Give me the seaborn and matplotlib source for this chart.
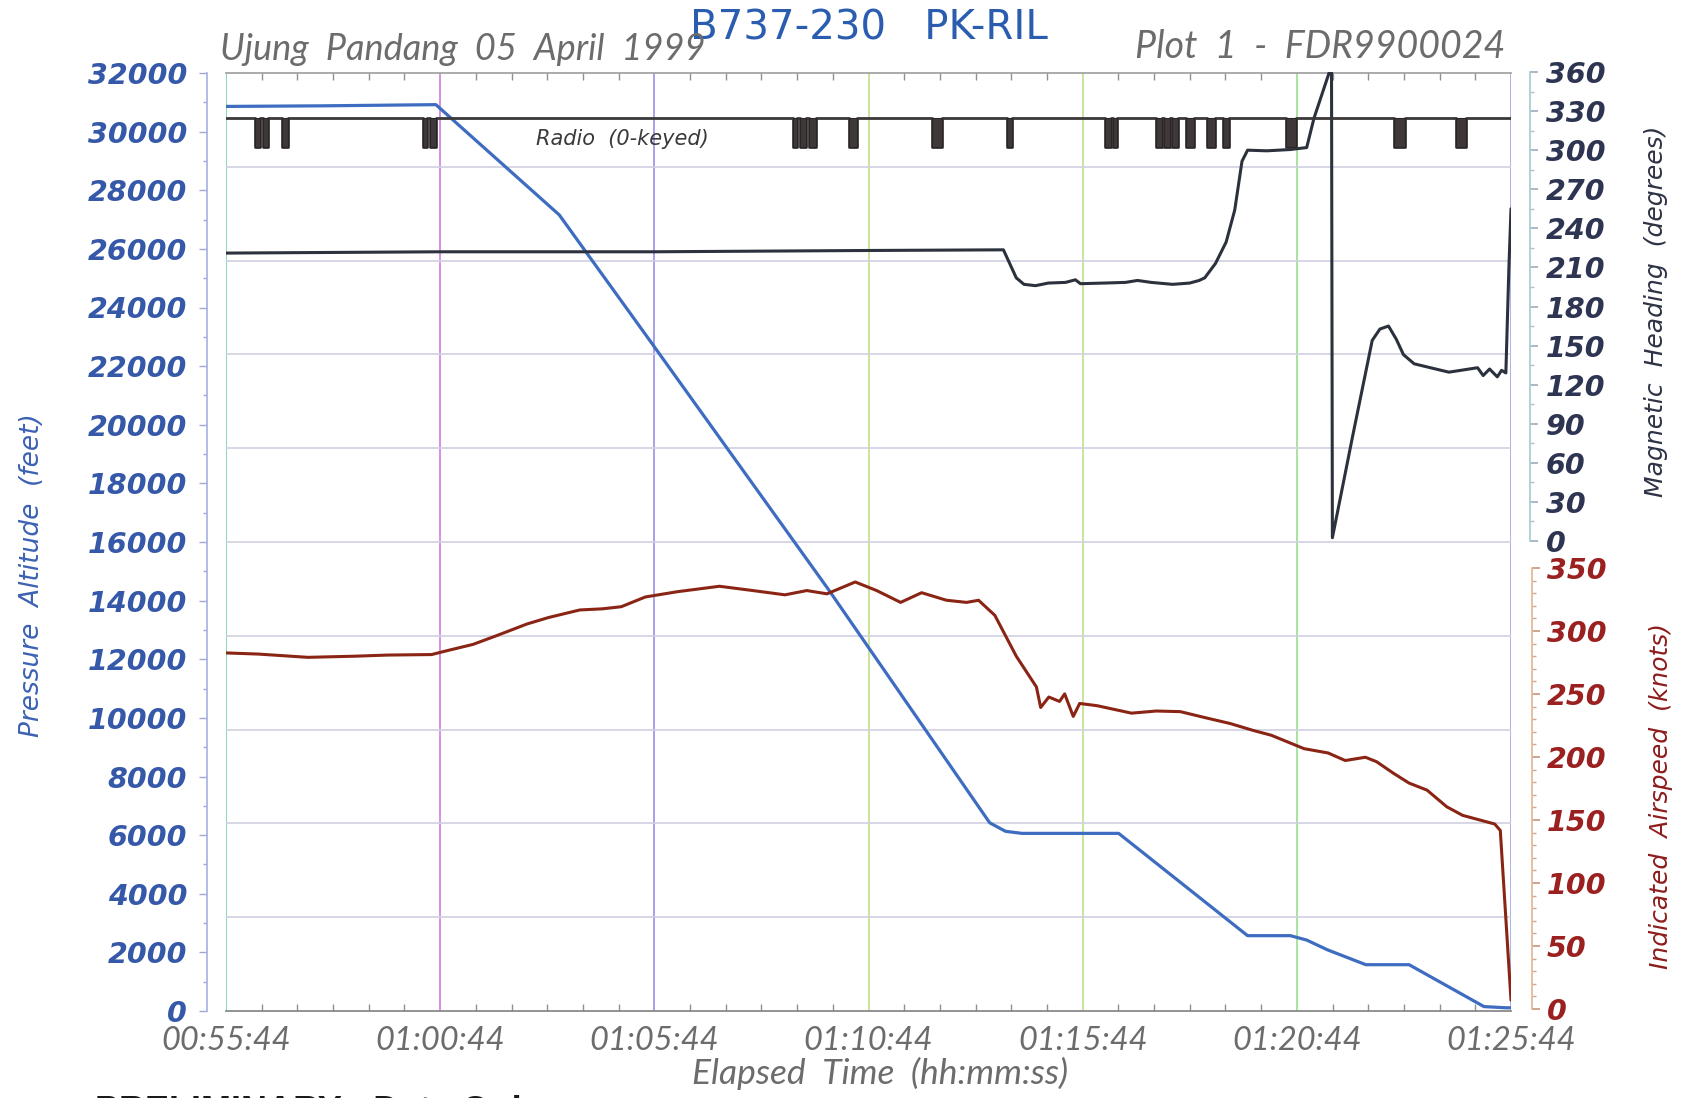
import matplotlib
matplotlib.use("Agg")
import matplotlib.pyplot as plt
import seaborn as sns
from matplotlib.ticker import MultipleLocator

sns.set_theme(style="white")
plt.rcParams['font.family'] = ['DejaVu Sans']

# ---- flight data, time in minutes elapsed since 00:55:44 ----
alt_t = [0.00, 2.26, 4.90, 7.78, 9.99, 14.06, 17.83, 18.20, 18.58, 20.84,
         23.85, 24.85, 25.23, 25.71, 26.61, 27.62, 29.37, 29.88, 30.00]
alt_ft = [30860, 30880, 30920, 27160, 22680, 14390, 6420, 6130, 6060, 6060,
          2570, 2570, 2420, 2090, 1580, 1580, 150, 110, 110]

hdg_t = [0.00, 5.00, 10.00, 15.00, 18.15, 18.45, 18.63, 18.90, 19.20, 19.60,
         19.83, 19.95, 20.50, 21.00, 21.28, 21.60, 22.10, 22.50, 22.72, 22.85,
         23.10, 23.35, 23.55, 23.72, 23.85, 24.30, 24.85, 25.23, 25.40, 25.76,
         25.81, 25.83, 26.30, 26.76, 26.94, 27.14, 27.32, 27.49, 27.74, 28.55,
         29.22, 29.35, 29.50, 29.68, 29.78, 29.88, 29.95, 30.00]
hdg_deg = [221, 222, 222, 223, 223.5, 202, 197, 196, 198, 198.5,
           200.5, 197.5, 198, 198.5, 200, 198.5, 197, 198, 200, 202,
           213, 229.5, 254, 291.5, 300, 299.5, 300.5, 302, 324.5, 360,
           360, 2.5, 80, 154, 162.7, 165, 155, 143, 136, 129.6,
           133, 127, 132, 126, 131, 129, 209, 255]

ias_t = [0.00, 0.75, 1.91, 3.01, 3.77, 4.80, 5.15, 5.77, 6.34, 7.03,
         7.53, 8.26, 8.79, 9.23, 9.79, 10.54, 11.52, 12.30, 13.05, 13.56,
         14.03, 14.69, 15.19, 15.75, 16.24, 16.82, 17.29, 17.57, 17.95, 18.45,
         18.92, 19.02, 19.21, 19.46, 19.58, 19.78, 19.93, 20.34, 21.14, 21.72,
         22.28, 22.85, 23.44, 23.98, 24.40, 25.17, 25.73, 26.13, 26.60, 26.86,
         27.26, 27.62, 28.04, 28.50, 28.87, 29.25, 29.62, 29.75, 30.00]
ias_kt = [282.6, 281.7, 279.1, 280.0, 280.9, 281.3, 284.3, 289.4, 296.6, 305.6,
          310.7, 316.7, 317.6, 319.3, 327.0, 331.2, 335.5, 332.1, 328.7, 332.1,
          329.5, 338.9, 332.1, 322.7, 330.4, 324.4, 322.7, 324.4, 312.4, 280.0,
          255.6, 239.3, 247.6, 244.1, 250.1, 232.2, 242.5, 240.7, 234.8, 236.5,
          236.0, 231.3, 226.6, 221.1, 217.3, 206.6, 203.2, 197.2, 199.8, 196.3,
          187.0, 179.3, 173.7, 160.5, 153.7, 150.2, 146.8, 141.7, 7.0]

# radio transmitter keyed intervals (minutes)
key_start = [0.678, 0.854, 1.305, 4.594, 4.770, 13.230, 13.406, 13.607, 14.536,
             16.490, 18.226, 20.511, 20.711, 21.716, 21.891, 22.092, 22.419,
             22.911, 23.285, 24.753, 27.264, 28.720]
key_end = [0.791, 0.979, 1.456, 4.695, 4.895, 13.331, 13.531, 13.783, 14.737,
           16.716, 18.352, 20.661, 20.812, 21.841, 22.042, 22.230, 22.594,
           23.096, 23.423, 24.979, 27.515, 28.946]

x_ticks = [0, 5, 10, 15, 20, 25, 30]
x_tick_labels = ["00:55:44", "01:00:44", "01:05:44", "01:10:44",
                 "01:15:44", "01:20:44", "01:25:44"]
alt_ticks = list(range(0, 32001, 2000))
hdg_ticks = list(range(0, 361, 30))
ias_ticks = list(range(0, 351, 50))

# ---- layout ----
W, H = 1686, 1098
fig = plt.figure(figsize=(W / 100, H / 100), dpi=100)
fig.patch.set_facecolor('white')


def rect(l, t, r, b):
    return [l / W, 1 - b / H, (r - l) / W, (b - t) / H]


L, R, T, B = 226, 1511, 73, 1011
ax = fig.add_axes(rect(L, T, R, B))
ax_h = fig.add_axes(rect(L, 72, R, 541))
ax_s = fig.add_axes(rect(L, 568, R, 1009))
ax_r = fig.add_axes(rect(L, 113, R, 152))

for a in (ax_h, ax_s, ax_r):
    a.patch.set_visible(False)
    for sp in a.spines.values():
        sp.set_visible(False)
    a.set_xlim(0, 30)
    a.set_xticks([])

tick_font = dict(family='DejaVu Sans', style='italic', weight='bold', size=20.5)
thin_font = dict(family=['Lato', 'DejaVu Sans'], style='italic', weight='normal')
label_font = dict(family=['Liberation Sans Narrow', 'DejaVu Sans'], style='italic')
thin_gray = '#6c6c6c'

# ---- grid ----
ax.set_xlim(0, 30)
ax.set_ylim(0, 32000)
grid_cols = ['#86d9b9', '#d58fe3', '#a9a0ea', '#cbe39a', '#c6e59a', '#a8e3a0', '#aab3ee']
for xv, c in zip(x_ticks, grid_cols):
    ax.axvline(xv, color=c, lw=1.4, zorder=0)
for k in range(1, 10):
    ax.axhline(32000 * k / 10, color='#d0d0e2', lw=1.2, zorder=0)

# ---- altitude (left axis) ----
sns.lineplot(x=alt_t, y=alt_ft, ax=ax, color='#3d6cc0', linewidth=2.3,
             estimator=None, sort=False, zorder=4)
ax.spines['right'].set_visible(False)
ax.spines['left'].set_position(('outward', 14))
ax.spines['left'].set_color('#a9b4e6')
ax.spines['left'].set_bounds(0, 32000)
ax.spines['bottom'].set_color('#858585')
ax.spines['top'].set_color('#a0a0a0')
ax.set_yticks(alt_ticks)
ax.set_yticklabels([str(v) for v in alt_ticks], color='#3559a8', **tick_font)
ax.yaxis.set_minor_locator(MultipleLocator(1000))
ax.tick_params(axis='y', which='major', direction='out', length=6, width=1,
               color='#a0a8d0', pad=8, left=True)
ax.tick_params(axis='y', which='minor', direction='out', length=3, width=1,
               color='#a0a8d0', left=True)
ax.set_xticks(x_ticks)
ax.set_xticklabels(x_tick_labels, color=thin_gray, size=23.5, **thin_font)
ax.xaxis.set_minor_locator(MultipleLocator(5 / 6))
ax.tick_params(axis='x', which='both', direction='in', top=True, bottom=True,
               color='#909090', width=1)
ax.tick_params(axis='x', which='major', length=0, pad=11)
ax.tick_params(axis='x', which='minor', length=5)
ax.set_xlabel('')
ax.set_ylabel('Pressure  Altitude  (feet)', color='#3c62b4', size=19, **label_font)
ax.yaxis.set_label_coords(-0.151, 0.465)
ax.yaxis.label.set_va('center')

# ---- magnetic heading (upper right axis) ----
ax_h.set_ylim(0, 360)
sns.lineplot(x=hdg_t, y=hdg_deg, ax=ax_h, color='#2b313d', linewidth=2.2,
             estimator=None, sort=False, zorder=4)
ax_h.spines['right'].set_visible(True)
ax_h.spines['right'].set_position(('outward', 14))
ax_h.spines['right'].set_color('#a8cdd6')
ax_h.yaxis.tick_right()
ax_h.set_yticks(hdg_ticks)
ax_h.set_yticklabels([str(v) for v in hdg_ticks], color='#2e3552', **tick_font)
ax_h.yaxis.set_minor_locator(MultipleLocator(15))
ax_h.tick_params(axis='y', which='major', direction='out', length=6, color='#a0b0c0',
                 right=True, left=False, pad=5)
ax_h.tick_params(axis='y', which='minor', direction='out', length=3, color='#b0c0c8',
                 right=True, left=False)
ax_h.yaxis.set_label_position('right')
ax_h.set_ylabel('Magnetic  Heading  (degrees)', color='#2d3344', size=18, rotation=90,
                **label_font)
ax_h.yaxis.set_label_coords(1.113, 0.49)
ax_h.yaxis.label.set_va('center')
ax_h.set_xlabel('')

# ---- indicated airspeed (lower right axis) ----
ax_s.set_ylim(0, 350)
sns.lineplot(x=ias_t, y=ias_kt, ax=ax_s, color='#8a2414', linewidth=2.2,
             estimator=None, sort=False, zorder=4)
ax_s.spines['right'].set_visible(True)
ax_s.spines['right'].set_position(('outward', 15))
ax_s.spines['right'].set_color('#e2b894')
ax_s.yaxis.tick_right()
ax_s.set_yticks(ias_ticks)
ax_s.set_yticklabels([str(v) for v in ias_ticks], color='#9b2020', **tick_font)
ax_s.yaxis.set_minor_locator(MultipleLocator(10))
ax_s.tick_params(axis='y', which='major', direction='out', length=6, color='#c89a80',
                 right=True, left=False, pad=5)
ax_s.tick_params(axis='y', which='minor', direction='out', length=3, color='#d0a890',
                 right=True, left=False)
ax_s.yaxis.set_label_position('right')
ax_s.set_ylabel('Indicated  Airspeed  (knots)', color='#8e1c1c', size=18, rotation=90,
                **label_font)
ax_s.yaxis.set_label_coords(1.117, 0.484)
ax_s.yaxis.label.set_va('center')
ax_s.set_xlabel('')

# ---- radio keying trace ----
ax_r.set_ylim(-0.162, 1.183)
ax_r.set_yticks([])
rt, rv = [0.0], [1]
for s, e in zip(key_start, key_end):
    rt += [s, e]
    rv += [0, 1]
rt.append(30.0)
rv.append(1)
sns.lineplot(x=rt, y=rv, ax=ax_r, color='#3a3838', linewidth=2.0,
             drawstyle='steps-post', estimator=None, sort=False, zorder=3)
ax_r.bar(key_start, [-1] * len(key_start),
         width=[e - s for s, e in zip(key_start, key_end)], bottom=1,
         align='edge', color='#3f3838', edgecolor='#2a2626', linewidth=0.8, zorder=3)
ax_r.text(9.26, 0.30, 'Radio  (0-keyed)', ha='center', va='center',
          color='#3a3a3a', size=15, style='italic')
ax_r.set_xlabel('')
ax_r.set_ylabel('')

# ---- titles and notes ----
fig.text(869 / W, 1 - 9 / H, 'B737-230   PK-RIL', ha='center', va='top',
         family='DejaVu Sans', size=29, color='#2a5db0')
fig.text(220 / W, 1 - 60 / H, 'Ujung  Pandang  05  April  1999', ha='left',
         va='baseline', color=thin_gray, size=26, **thin_font)
fig.text(1505 / W, 1 - 58 / H, 'Plot  1  -  FDR9900024', ha='right',
         va='baseline', color=thin_gray, size=27, **thin_font)
fig.text(880 / W, 1 - 1084 / H, 'Elapsed  Time  (hh:mm:ss)', ha='center',
         va='baseline', color=thin_gray, size=25.5, **thin_font)
fig.text(95 / W, 1 - 1095 / H, 'PRELIMINARY - Data Only', ha='left', va='top',
         family='Liberation Sans', weight='bold', size=26, color='#1a1a1a')

fig.savefig('out.png', dpi=100, facecolor='white')
